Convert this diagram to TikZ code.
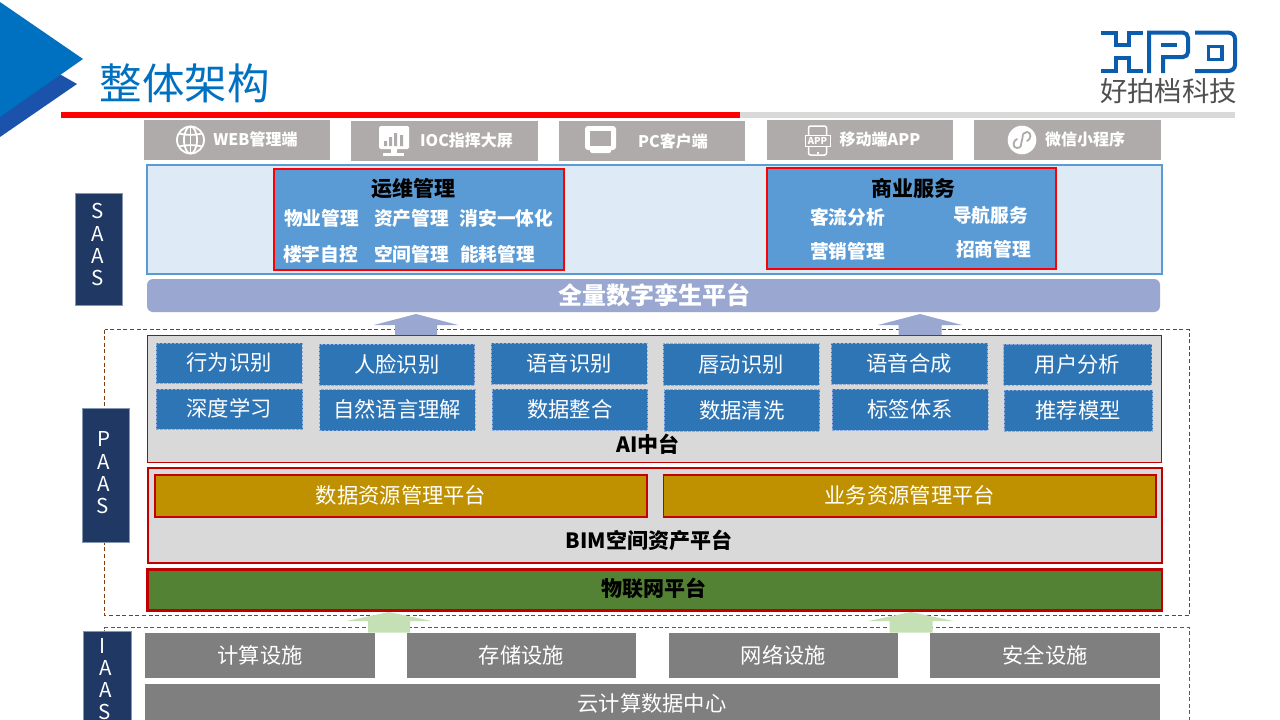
\documentclass[tikz,border=0pt]{standalone}
\usepackage{fontspec}
\setmainfont{Noto Sans CJK SC}
\definecolor{titleblue}{HTML}{0070C0}
\definecolor{tridark}{HTML}{1B52AB}
\definecolor{iconbox}{HTML}{AFABAB}
\definecolor{panelfill}{HTML}{DEEAF6}
\definecolor{panelline}{HTML}{5B9BD5}
\definecolor{twinbar}{HTML}{99A7D1}
\definecolor{navy}{HTML}{1F3864}
\definecolor{sideline}{HTML}{8497B0}
\definecolor{aiblue}{HTML}{2E75B6}
\definecolor{aidash}{HTML}{8FAADC}
\definecolor{lgray}{HTML}{D9D9D9}
\definecolor{dred}{HTML}{C00000}
\definecolor{gold}{HTML}{BF9000}
\definecolor{iotgreen}{HTML}{548235}
\definecolor{mgray}{HTML}{7F7F7F}
\definecolor{lgreen}{HTML}{C5E0B4}
\definecolor{framebrown}{HTML}{843C0C}
\definecolor{framegray}{HTML}{595959}
\definecolor{logoblue}{HTML}{0B5CAD}
\definecolor{logogray}{HTML}{505050}
\tikzset{
  x=1pt,y=-1pt,
  bx/.style={inner sep=0pt,outer sep=0pt},
  iconbx/.style={bx,fill=iconbox},
  redbx/.style={bx,fill=panelline,draw=red,line width=2pt},
  aibx/.style={bx,fill=aiblue,draw=aidash,line width=1pt,dash pattern=on 2.5pt off 1.5pt},
  goldbx/.style={bx,fill=gold,draw=dred!90!red,line width=1.2pt},
  graybx/.style={bx,fill=mgray},
  sidebx/.style={bx,fill=navy,draw=sideline,line width=.6pt},
  lbl/.style={inner sep=0pt,outer sep=0pt,anchor=center,execute at begin node={\rule[-.14em]{0pt}{1.02em}}},
  wreg/.style={lbl,text=white,font=\fontsize{21.3}{22}\selectfont},
  wbold/.style={lbl,text=white,font=\fontsize{18.7}{19}\selectfont\bfseries},
  icotxt/.style={lbl,text=white,font=\fontsize{16}{16}\selectfont\bfseries},
  kbold/.style={lbl,text=black,font=\fontsize{21}{21}\selectfont\bfseries},
  side/.style={lbl,text=white,font=\fontsize{20.5}{21}\selectfont},
  frame/.style={line width=.7pt,dash pattern=on 4pt off 2.6pt},
  logo/.style={draw=logoblue,line width=4pt,line join=miter,line cap=butt},
}
\newcommand{\bxn}[7]{\node[#2,minimum width={(#5)-(#3)},minimum height={(#6)-(#4)}] (#1) at ({((#3)+(#5))/2},{((#4)+(#6))/2}) {#7};}
% block arrow: colour, tip x, tip y, head half-width, head base y, shaft half-width, shaft bottom y
\newcommand{\upblock}[7]{\fill[#1] (#2,#3) -- ({#2+#4},#5) -- ({#2+#6},#5) -- ({#2+#6},#7) -- ({#2-#6},#7) -- ({#2-#6},#5) -- ({#2-#4},#5) -- cycle;}
\begin{document}
\begin{tikzpicture}
\clip (0,0) rectangle (1280,720);
\fill[white] (0,0) rectangle (1280,720);
% corner triangles
\fill[tridark] (0,40) -- (77,84) -- (0,137) -- cycle;
\fill[titleblue] (0,2) -- (83,59) -- (0,117) -- cycle;
% title
\node[lbl,text=titleblue,font=\fontsize{42.5}{43}\selectfont] (title) at (184.5,83.5) {整体架构};
% rule
\fill[lgray] (740,112) rectangle (1235,118);
\fill[red] (61,112) rectangle (740,118);
% logo
\draw[logo] (1101,32.5) -- (1115.5,32.5) -- (1115.5,45) -- (1128.5,45) -- (1128.5,32.5) -- (1143,32.5);
\draw[logo] (1101,71) -- (1115.5,71) -- (1115.5,58) -- (1128.5,58) -- (1128.5,71) -- (1143,71);
\draw[logo] (1149,73) -- (1149,32.5) -- (1183,32.5) to[out=0,in=90] (1188,38) -- (1188,52) to[out=-90,in=0] (1183,57) -- (1163,57) -- (1163,73);
\draw[logo] (1161,45) -- (1177,45);
\draw[logo] (1195,32.5) -- (1228,32.5) to[out=0,in=90] (1235,39) -- (1235,65) to[out=-90,in=0] (1228,71) -- (1195,71);
\draw[logo,line width=3.4pt] (1208.5,46.5) rectangle (1222,59.5);
\node[lbl,text=logogray,font=\fontsize{27.4}{28}\selectfont] (logotext) at (1168.5,91) {好拍档科技};
% frames
\draw[frame,draw=framebrown] (104.5,329.5) rectangle (1189.5,615.5);
\draw[frame,draw=framegray] (104.5,740) -- (104.5,627.5) -- (1189.5,627.5) -- (1189.5,740);
% client row
\bxn{c1}{iconbx}{144}{120}{330}{160}{}
\bxn{c2}{iconbx}{351}{121}{538}{161}{}
\bxn{c3}{iconbx}{559}{121}{745}{161}{}
\bxn{c4}{iconbx}{767}{120}{953}{160}{}
\bxn{c5}{iconbx}{974}{120}{1161}{160}{}
\node[icotxt] (t1) at (255.5,140) {WEB管理端};
\node[icotxt] (t2) at (466.5,141) {IOC指挥大屏};
\node[icotxt] (t3) at (673,142) {PC客户端};
\node[icotxt] (t4) at (880,140) {移动端APP};
\node[icotxt] (t5) at (1085,140) {微信小程序};
% globe
\begin{scope}[draw=white,line width=1.8pt]
\draw (190.5,140) circle[radius=13.5];
\draw (190.5,140) ellipse[x radius=6.5,y radius=13.5];
\draw (190.5,126.5) -- (190.5,153.5);
\draw (179,133.5) to[bend right=12] (202,133.5);
\draw (179,146.5) to[bend left=12] (202,146.5);
\end{scope}
% chart monitor
\fill[white,rounded corners=1.5pt] (379,126) rectangle (409,149);
\fill[white] (391,149) rectangle (397,153);
\fill[white] (383,153) rectangle (404,156);
\fill[iconbox] (384,141) rectangle (387,146) (389,137) rectangle (392,146) (394,133) rectangle (397,146) (400,135) rectangle (403,146);
% pc monitor
\fill[white,rounded corners=3pt] (585,126) rectangle (616,150);
\fill[white,rounded corners=1.5pt] (590,148) rectangle (611,153);
\fill[iconbox] (590,131) rectangle (611,146);
% app icon
\draw[white,line width=1.5pt,rounded corners=2pt] (808.5,126) rectangle (826.5,155);
\fill[white] (816.5,151.5) rectangle (818.5,153.5);
\fill[iconbox] (805,135) rectangle (830,146);
\draw[white,line width=.9pt] (805,135) rectangle (830,146);
\node[lbl,text=white,font=\fontsize{9.5}{10}\selectfont\bfseries] (appicon) at (817.5,140.5) {APP};
% mini program icon
\fill[white] (1022,140) circle[radius=14.3];
\draw[iconbox,line width=1.8pt,line cap=round] (1017,139) .. controls (1013,140) and (1012,148) .. (1017,148) .. controls (1021,148) and (1021.5,145) .. (1021.5,142) -- (1022.5,138) .. controls (1022.5,134) and (1024,132) .. (1027,132) .. controls (1032,132) and (1031,140) .. (1027,141);
% SaaS panel
\bxn{saas}{bx,fill=panelfill,draw=panelline,line width=1.6pt}{147}{165}{1162}{274}{}
\bxn{ops}{redbx}{274}{169}{564}{270}{}
\bxn{biz}{redbx}{767}{168}{1056}{269}{}
\node[kbold,font=\fontsize{21}{21}\selectfont\bfseries] (opst) at (413,189) {运维管理};
\node[kbold,font=\fontsize{21}{21}\selectfont\bfseries] (bizt) at (913,189) {商业服务};
\node[wbold] (o1) at (321.5,219) {物业管理};
\node[wbold] (o2) at (411.5,219) {资产管理};
\node[wbold] (o3) at (506.5,219) {消安一体化};
\node[wbold] (o4) at (320.5,254.5) {楼宇自控};
\node[wbold] (o5) at (411.5,254.5) {空间管理};
\node[wbold] (o6) at (497.5,254.5) {能耗管理};
\node[wbold] (b1) at (847.5,218) {客流分析};
\node[wbold] (b2) at (990.5,216) {导航服务};
\node[wbold] (b3) at (847.5,252) {营销管理};
\node[wbold] (b4) at (993.5,250) {招商管理};
% twin bar
\node[bx,fill=twinbar,rounded corners=6pt,minimum width=1013,minimum height=33] (twin) at (653.5,295.5) {};
\node[lbl,text=white,font=\fontsize{24}{24}\selectfont\bfseries] (twint) at (654,295.5) {全量数字孪生平台};
% AI panel
\bxn{ai}{bx,fill=lgray,draw=dred,line width=1pt}{147.5}{335}{1161.5}{462}{}
\bxn{a1}{aibx}{156}{343}{302}{383}{}
\bxn{a2}{aibx}{319}{344}{474.5}{385}{}
\bxn{a3}{aibx}{491}{343}{647}{384}{}
\bxn{a4}{aibx}{663}{343.5}{819}{385}{}
\bxn{a5}{aibx}{831}{343}{987.5}{384}{}
\bxn{a6}{aibx}{1003.5}{344}{1151.5}{385}{}
\bxn{a7}{aibx}{156}{389}{302.5}{429}{}
\bxn{a8}{aibx}{319.5}{389.5}{475}{430.5}{}
\bxn{a9}{aibx}{492}{389}{647.5}{430}{}
\bxn{a10}{aibx}{664}{389.5}{819.5}{431}{}
\bxn{a11}{aibx}{832}{389}{988}{430}{}
\bxn{a12}{aibx}{1004}{390}{1152.5}{431}{}
\node[wreg] (at1) at (a1) {行为识别};
\node[wreg] (at2) at (a2) {人脸识别};
\node[wreg] (at3) at (a3) {语音识别};
\node[wreg] (at4) at (a4) {唇动识别};
\node[wreg] (at5) at (a5) {语音合成};
\node[wreg] (at6) at (a6) {用户分析};
\node[wreg] (at7) at (a7) {深度学习};
\node[wreg] (at8) at (a8) {自然语言理解};
\node[wreg] (at9) at (a9) {数据整合};
\node[wreg] (at10) at (a10) {数据清洗};
\node[wreg] (at11) at (a11) {标签体系};
\node[wreg] (at12) at (a12) {推荐模型};
\node[kbold] (ait) at (648,445) {AI中台};
% BIM panel
\bxn{bim}{bx,fill=lgray,draw=dred,line width=2pt}{147.5}{468}{1162}{563}{}
\bxn{g1}{goldbx}{155}{475}{647}{517}{}
\bxn{g2}{goldbx}{663.5}{475}{1156}{517}{}
\node[wreg] (gt1) at (g1) {数据资源管理平台};
\node[wreg] (gt2) at (g2) {业务资源管理平台};
\node[kbold] (bimt) at (649,541) {BIM空间资产平台};
% IoT
\bxn{iot}{bx,fill=iotgreen,draw=dred,line width=2.2pt}{147.5}{569.5}{1162}{610.5}{}
\node[kbold] (iott) at (654,589) {物联网平台};
% IaaS boxes
\bxn{i1}{graybx}{145}{633}{375}{678}{}
\bxn{i2}{graybx}{407}{633}{636}{678}{}
\bxn{i3}{graybx}{669}{633}{898}{678}{}
\bxn{i4}{graybx}{930}{633}{1160}{678}{}
\bxn{i5}{graybx}{145}{684}{1160}{760}{}
\node[wreg] (it1) at (i1) {计算设施};
\node[wreg] (it2) at (i2) {存储设施};
\node[wreg] (it3) at (i3) {网络设施};
\node[wreg] (it4) at (i4) {安全设施};
\node[wreg] (it5) at (652,704) {云计算数据中心};
% block arrows
\upblock{twinbar}{416}{314}{42}{325}{21}{335}
\upblock{twinbar}{920}{314}{42}{325}{21.5}{335}
\upblock{lgreen}{389}{612}{42.5}{621}{21}{632.5}
\upblock{lgreen}{911}{612}{42.5}{621}{21.5}{632.5}
% side labels
\bxn{ss}{sidebx}{75}{193.5}{122.5}{305}{}
\node[side] (s1) at (98,211) {S};
\node[side] (s2) at (98,234) {A};
\node[side] (s3) at (98,256) {A};
\node[side] (s4) at (97.5,278) {S};
\bxn{ps}{sidebx}{82}{408}{129.5}{542}{}
\node[side] (p1) at (104,439) {P};
\node[side] (p2) at (104,462) {A};
\node[side] (p3) at (104,484) {A};
\node[side] (p4) at (103,506) {S};
\bxn{is}{sidebx}{83}{631}{131}{760}{}
\node[side] (q1) at (103,646) {I};
\node[side] (q2) at (105.5,668) {A};
\node[side] (q3) at (105.5,690) {A};
\node[side] (q4) at (105,712) {S};
\end{tikzpicture}
\end{document}
